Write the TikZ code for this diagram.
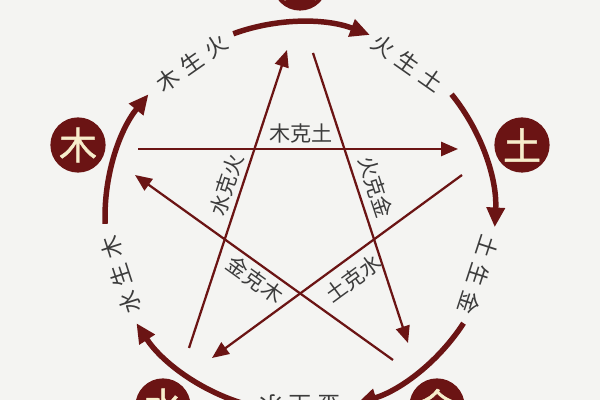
\documentclass[tikz,border=0pt]{standalone}
\usepackage{fontspec}
\usepackage{xcolor}
\usepackage{tikz}
\usetikzlibrary{arrows.meta}

\newfontfamily\cjk{Noto Sans CJK SC}
\newfontfamily\cjkbold[FakeBold=1.2]{Noto Sans CJK SC}
\newfontfamily\cjkwide[LetterSpace=30]{Noto Sans CJK SC}

\definecolor{wxred}{HTML}{6B1414}
\definecolor{wxtext}{HTML}{3C3C3C}
\definecolor{wxcream}{HTML}{F7EDCB}
\definecolor{wxback}{HTML}{F4F4F2}

\begin{document}
\begin{tikzpicture}[x=0.025cm, y=0.025cm,
    element/.style={circle, fill=wxred, minimum size=1.38cm, inner sep=0pt, text=wxcream, font=\cjkbold\fontsize{27}{27}\selectfont},
    ke/.style={draw=wxred, line width=1.6pt, -{Triangle[length=12pt, width=10pt]}},
    sheng/.style={draw=wxred, line width=3.9pt, -{Triangle[length=14pt, width=12.5pt]}},
    kelabel/.style={sloped, text=wxtext, inner sep=3pt, font=\cjk\fontsize{15}{15}\selectfont},
    shenglabel/.style={text=wxtext, inner sep=0pt, font=\cjkwide\fontsize{16}{16}\selectfont}]

    \useasboundingbox (0,0) rectangle (600,400);
    \fill[wxback] (0,0) rectangle (600,400);

    \coordinate (O) at (300,183);

    % the five elements
    \node[element] (huo) at (300,417) {火};
    \node[element] (tu) at (522,255) {土};
    \node[element] (jin) at (437,-6) {金};
    \node[element] (shui) at (163,-6) {水};
    \node[element] (mu) at (78,255) {木};

    % ends of the star
    \coordinate (mu-a) at (138,251);
    \coordinate (tu-a) at (458,251);
    \coordinate (shui-a) at (189,52);
    \coordinate (huo-a) at (287,350);
    \coordinate (huo-b) at (313,347);
    \coordinate (jin-a) at (408,57);
    \coordinate (jin-b) at (393,40);
    \coordinate (mu-b) at (135,225);
    \coordinate (tu-b) at (462,225);
    \coordinate (shui-b) at (212,42);

    \draw[ke] (mu-a) -- node[kelabel, above, pos=0.51] {木克土} (tu-a);
    \draw[ke] (shui-a) -- node[kelabel, above, pos=0.53] {水克火} (huo-a);
    \draw[ke] (huo-b) -- node[kelabel, above=2pt, pos=0.48] {火克金} (jin-a);
    \draw[ke] (jin-b) -- node[kelabel, below, pos=0.5] {金克木} (mu-b);
    \draw[ke] (tu-b) -- node[kelabel, below=3pt, pos=0.48] {土克水} (shui-b);

    % outer ring
    \draw[sheng] (O) ++(182:195) arc[start angle=182, end angle=141, radius=195];
    \draw[sheng] (O) ++(110:195) arc[start angle=110, end angle=69, radius=195];
    \draw[sheng] (O) ++(39:195) arc[start angle=39, end angle=-3, radius=195];
    \draw[sheng] (O) ++(-33:195) arc[start angle=-33, end angle=-73, radius=195];
    \draw[sheng] (O) ++(-107:195) arc[start angle=-107, end angle=-147, radius=195];

    \path (O) ++(125:188) node[shenglabel, rotate=35] (mu-huo) {木生火};
    \path (O) ++(55:188) node[shenglabel, rotate=-35] (huo-tu) {火生土};
    \path (O) ++(-18:188) node[shenglabel, rotate=-108] (tu-jin) {土生金};
    \path (O) ++(-90:188) node[shenglabel, rotate=180] (jin-shui) {金生水};
    \path (O) ++(198:188) node[shenglabel, rotate=108] (shui-mu) {水生木};
\end{tikzpicture}
\end{document}
